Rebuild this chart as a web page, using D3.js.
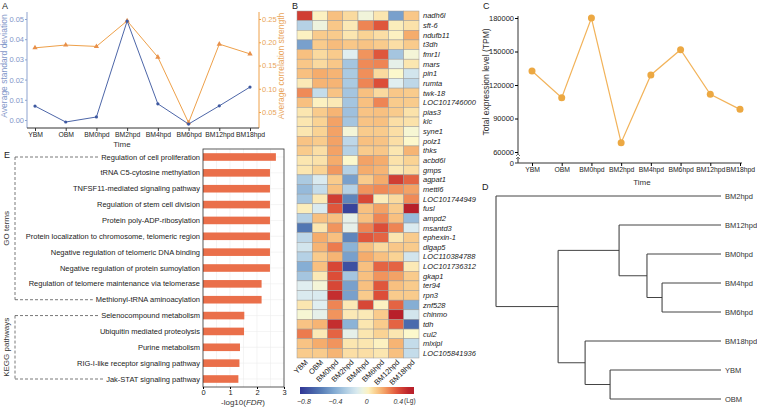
<!DOCTYPE html>
<html><head><meta charset="utf-8">
<script src="https://cdn.jsdelivr.net/npm/d3@7"></script>
<style>
body{margin:0;background:#fff;}
svg{font-family:"Liberation Sans", Arial, sans-serif;}
</style></head><body>
<svg id="fig" width="757" height="414"></svg>
<script>
// ---------------- DATA ----------------
const timePoints = ["YBM","OBM","BM0hpd","BM2hpd","BM4hpd","BM6hpd","BM12hpd","BM18hpd"];
const sdValues   = [0.0069, -0.001, 0.0015, 0.049, 0.008, -0.002, 0.007, 0.0163];
const corrValues = [0.188, 0.194, 0.191, 0.246, 0.168, 0.027, 0.196, 0.175];
const sdTicks    = [0, 0.01, 0.02, 0.03, 0.04, 0.05];
const corrTicks  = [0.05, 0.10, 0.15, 0.20, 0.25];

const tpmValues  = [132600, 108600, 180000, 68300, 129000, 151600, 111700, 98200];
const tpmTicks   = [60000, 90000, 120000, 150000, 180000];

const genes = ["nadh6l","sft-6","ndufb11","t3dh","fmr1l","mars","pin1","rumta","twk-18","LOC101746000",
 "pias3","klc","syne1","polz1","thks","acbd6l","gmps","agpat1","mettl6","LOC101744949","fusl","ampd2",
 "msantd3","ephexin-1","dlgap5","LOC110384788","LOC101736312","gkap1","ter94","rpn3","znf528","chinmo",
 "tdh","cul2","mlxipl","LOC105841936"];
const heatValues = [
 [0.45,0.02,0.15,0.08,-0.04,0.05,-0.45,0.13],
 [-0.25,-0.05,0.13,0.04,0.28,0.38,0.03,0.06],
 [0.02,0.12,0.12,0.05,0.10,0.07,0.02,0.20],
 [-0.45,0.12,0.16,0.13,0.14,0.12,0.07,0.12],
 [0.15,0.08,0.12,-0.10,0.25,0.38,-0.30,-0.03],
 [0.13,0.08,0.13,-0.30,0.27,0.28,-0.08,0.05],
 [0.15,0.20,0.18,-0.28,0.26,0.08,0.00,-0.15],
 [0.04,0.18,0.18,-0.28,0.28,0.40,-0.10,-0.22],
 [0.27,-0.20,0.14,-0.30,0.15,0.08,0.13,0.12],
 [0.15,0.02,0.04,-0.30,0.15,0.28,0.12,0.12],
 [0.05,0.12,0.18,-0.32,0.14,0.15,0.12,0.06],
 [0.05,0.10,0.22,-0.30,0.14,0.15,0.07,0.06],
 [0.05,0.10,0.22,-0.03,0.12,0.12,0.07,-0.02],
 [0.14,0.12,0.22,-0.22,0.15,0.14,0.07,0.00],
 [0.12,0.07,0.22,-0.25,0.12,0.13,0.05,0.18],
 [0.05,0.06,0.20,0.00,0.22,0.20,0.06,0.10],
 [0.05,0.10,0.24,-0.25,0.20,0.18,0.04,0.07],
 [-0.28,-0.12,0.12,-0.45,0.12,0.20,0.45,0.35],
 [-0.35,-0.20,0.15,-0.25,0.25,0.27,0.25,0.22],
 [-0.30,0.04,0.45,-0.55,0.42,0.03,0.08,0.27],
 [0.03,-0.12,0.38,-0.80,0.15,0.22,0.12,0.55],
 [-0.25,0.15,0.15,-0.08,0.15,0.28,0.15,-0.35],
 [-0.60,0.05,0.25,-0.08,0.28,0.40,0.28,-0.12],
 [-0.22,0.20,0.15,-0.55,0.38,0.35,0.05,0.12],
 [-0.15,0.18,0.30,-0.38,0.15,0.08,0.13,0.12],
 [-0.25,0.12,0.18,-0.45,0.20,0.15,0.10,-0.15],
 [-0.40,0.15,0.42,-0.75,0.15,0.35,0.35,0.04],
 [-0.30,0.04,0.40,-0.30,0.15,0.25,0.22,0.12],
 [-0.10,-0.03,0.42,-0.45,0.15,0.38,0.15,0.12],
 [-0.12,-0.12,0.50,-0.45,0.12,0.40,0.12,0.12],
 [0.05,-0.10,0.28,0.04,0.42,0.02,0.35,-0.40],
 [-0.02,-0.08,0.25,0.04,0.04,0.12,0.55,-0.15],
 [0.14,0.18,0.50,-0.38,0.05,0.12,0.35,-0.65],
 [0.30,0.04,0.35,-0.08,0.05,0.10,0.05,0.00],
 [0.14,0.20,0.25,0.05,0.05,0.02,0.18,-0.20],
 [0.12,0.12,0.18,0.07,0.07,0.05,0.15,-0.20]
];
const colorbarTicks = [-0.8, -0.4, 0, 0.4];

const leafOrder = ["BM2hpd","BM12hpd","BM0hpd","BM4hpd","BM6hpd","BM18hpd","YBM","OBM"];
const treeMerges = [
 ["n1","BM4hpd","BM6hpd",0.262],
 ["n2","BM0hpd","n1",0.329],
 ["n3","BM12hpd","n2",0.453],
 ["n4","YBM","OBM",0.493],
 ["n5","BM18hpd","n4",0.604],
 ["n6","n3","n5",0.724],
 ["root","BM2hpd","n6",1.0]
];

const goTerms = ["Regulation of cell proliferation","tRNA C5-cytosine methylation","TNFSF11-mediated signaling pathway",
 "Regulation of stem cell division","Protein poly-ADP-ribosylation","Protein localization to chromosome, telomeric region",
 "Negative regulation of telomeric DNA binding","Negative regulation of protein sumoylation",
 "Regulation of telomere maintenance via telomerase","Methionyl-tRNA aminoacylation"];
const goValues = [2.70,2.48,2.48,2.48,2.48,2.48,2.48,2.48,2.17,2.17];
const keggTerms = ["Selenocompound metabolism","Ubiquitin mediated proteolysis","Purine metabolism",
 "RIG-I-like receptor signaling pathway","Jak-STAT signaling pathway"];
const keggValues = [1.53,1.52,1.37,1.35,1.31];
const fdrTicks = [0,1,2,3];

// ---------------- DRAW ----------------
const svg = d3.select("#fig");
const fs = 7.5, fsx = 6.8;

function panelLabel(t,x,y){ svg.append("text").attr("x",x).attr("y",y).attr("font-size",9).attr("fill","#222").text(t); }
panelLabel("A",2,9); panelLabel("B",292,9); panelLabel("C",483,9); panelLabel("D",482,190); panelLabel("E",4,158);

// ===== Panel A =====
(function(){
 const blue="#4d66a8", blueTxt="#7f96c8", orange="#eea049", orangeTxt="#e9a55a";
 const x = d3.scalePoint().domain(timePoints).range([35,250]);
 const yL = d3.scaleLinear().domain([0,0.05]).range([120,19]);
 const yR = d3.scaleLinear().domain([0.05,0.25]).range([112,19]);
 const g = svg.append("g");
 g.append("line").attr("x1",27).attr("x2",27).attr("y1",12).attr("y2",128).attr("stroke","#8fa3cf");
 g.append("line").attr("x1",259).attr("x2",259).attr("y1",12).attr("y2",128).attr("stroke",orange);
 g.append("line").attr("x1",27).attr("x2",259).attr("y1",128).attr("y2",128).attr("stroke","#333");
 const la = g.append("g").attr("transform","translate(27,0)")
   .call(d3.axisLeft(yL).tickValues(sdTicks).tickFormat(d3.format(".2f")).tickSize(2).tickPadding(1));
 la.select(".domain").remove();
 la.selectAll("line").attr("stroke","#8fa3cf");
 la.selectAll("text").attr("fill",blueTxt).attr("font-size",fs).attr("font-family","Liberation Sans, Arial");
 const ra = g.append("g").attr("transform","translate(259,0)")
   .call(d3.axisRight(yR).tickValues(corrTicks).tickFormat(d3.format(".2f")).tickSize(2).tickPadding(1));
 ra.select(".domain").remove();
 ra.selectAll("line").attr("stroke",orange);
 ra.selectAll("text").attr("fill",orangeTxt).attr("font-size",fs).attr("font-family","Liberation Sans, Arial");
 const xa = g.append("g").attr("transform","translate(0,128)")
   .call(d3.axisBottom(x).tickSize(3).tickPadding(1));
 xa.select(".domain").remove();
 xa.selectAll("line").attr("stroke","#333");
 xa.selectAll("text").attr("fill","#222").attr("font-size",fsx).attr("font-family","Liberation Sans, Arial");
 g.append("text").attr("x",122).attr("y",147).attr("text-anchor","middle").attr("font-size",8).attr("fill","#333").text("Time");
 g.append("text").attr("transform","translate(7,66) rotate(-90)").attr("text-anchor","middle")
   .attr("font-size",8.5).attr("fill",blueTxt).text("Average standard deviation");
 g.append("text").attr("transform","translate(284,66) rotate(-90)").attr("text-anchor","middle")
   .attr("font-size",8.5).attr("fill",orangeTxt).text("Average correlation strength");
 const lo = d3.line().x((d,i)=>x(timePoints[i])).y(d=>yR(d));
 g.append("path").datum(corrValues).attr("d",lo).attr("fill","none").attr("stroke",orange).attr("stroke-width",1);
 g.selectAll(".tri").data(corrValues).join("path")
   .attr("transform",(d,i)=>`translate(${x(timePoints[i])},${yR(d)})`)
   .attr("d",d3.symbol(d3.symbolTriangle,12)).attr("fill","#e8904a");
 const lb = d3.line().x((d,i)=>x(timePoints[i])).y(d=>yL(d));
 g.append("path").datum(sdValues).attr("d",lb).attr("fill","none").attr("stroke",blue).attr("stroke-width",1);
 g.selectAll(".dot").data(sdValues).join("circle")
   .attr("cx",(d,i)=>x(timePoints[i])).attr("cy",d=>yL(d)).attr("r",1.6).attr("fill","#3d58a0");
})();

// ===== Panel B heatmap =====
(function(){
 const heatColor = d3.scaleLinear()
   .domain([-0.85,-0.6,-0.4,-0.2,-0.1,0,0.1,0.2,0.3,0.4,0.55])
   .range(["#313695","#5277b3","#86aed4","#c4dcea","#e0eef0","#fcf8cc","#fad394","#f5ac6c","#ec7b4e","#dc4d38","#b81f2a"])
   .clamp(true);
 const x = d3.scaleBand().domain(timePoints).range([297,419]);
 const y = d3.scaleBand().domain(genes).range([11,358]);
 const g = svg.append("g");
 genes.forEach((gene,r)=>{
   g.selectAll(null).data(heatValues[r]).join("rect")
    .attr("x",(d,i)=>x(timePoints[i])).attr("y",y(gene))
    .attr("width",x.bandwidth()).attr("height",y.bandwidth())
    .attr("fill",d=>heatColor(d)).attr("stroke","#9a9a9a").attr("stroke-width",0.5);
 });
 g.selectAll(".gl").data(genes).join("text")
   .attr("x",423).attr("y",d=>y(d)+y.bandwidth()/2).attr("dy","0.35em")
   .attr("font-size",7.5).attr("font-style","italic").attr("fill","#222").text(d=>d);
 g.selectAll(".cl").data(timePoints).join("text")
   .attr("transform",d=>`translate(${x(d)+x.bandwidth()/2+2},${361}) rotate(-45)`)
   .attr("text-anchor","end").attr("dy","0.35em").attr("font-size",7.5).attr("fill","#222").text(d=>d);
 const cb = d3.scaleLinear().domain([-0.85,0.6]).range([300,414]);
 const defs = svg.append("defs");
 const grad = defs.append("linearGradient").attr("id","cbg");
 d3.range(0,1.0001,0.05).forEach(t=>{
   grad.append("stop").attr("offset",t).attr("stop-color",heatColor(cb.invert(300+t*114)));
 });
 g.append("rect").attr("x",300).attr("y",387).attr("width",114).attr("height",7).attr("fill","url(#cbg)");
 g.selectAll(".ct").data(colorbarTicks).join("text")
   .attr("x",d=>cb(d)).attr("y",404).attr("text-anchor","middle")
   .attr("font-size",7).attr("font-style","italic").attr("fill","#333")
   .text(d=>d===0?"0":(d<0?"\u2212"+Math.abs(d):String(d)));
 g.append("text").attr("x",404).attr("y",403).attr("font-size",6.5).attr("fill","#333").text("(Lg)");
})();

// ===== Panel C =====
(function(){
 const x = d3.scalePoint().domain(timePoints).range([532,740]);
 const y = d3.scaleLinear().domain([60000,180000]).range([152,18]);
 const g = svg.append("g");
 g.append("line").attr("x1",518).attr("x2",518).attr("y1",16).attr("y2",163).attr("stroke","#333");
 g.append("line").attr("x1",518).attr("x2",742).attr("y1",163).attr("y2",163).attr("stroke","#333");
 const ya = g.append("g").attr("transform","translate(518,0)")
   .call(d3.axisLeft(y).tickValues(tpmTicks).tickFormat(d3.format("d")).tickSize(3).tickPadding(1));
 ya.select(".domain").remove();
 ya.selectAll("text").attr("font-size",fs).attr("fill","#222");
 g.append("line").attr("x1",515).attr("x2",518).attr("y1",163).attr("y2",163).attr("stroke","#333");
 g.append("text").attr("x",514).attr("y",163).attr("dy","0.35em").attr("text-anchor","end").attr("font-size",fs).attr("fill","#222").text("0");
 g.append("rect").attr("x",515).attr("y",154).attr("width",6).attr("height",4).attr("fill","#fff");
 g.append("path").attr("d","M516,156 l2,-2 l2,2 M516,159 l2,-2 l2,2").attr("stroke","#333").attr("fill","none").attr("stroke-width",0.7);
 const xa = g.append("g").attr("transform","translate(0,163)")
   .call(d3.axisBottom(x).tickSize(3).tickPadding(1));
 xa.select(".domain").remove();
 xa.selectAll("text").attr("font-size",fsx).attr("fill","#222");
 g.append("text").attr("x",642).attr("y",185).attr("text-anchor","middle").attr("font-size",8).attr("fill","#333").text("Time");
 g.append("text").attr("transform","translate(489,82) rotate(-90)").attr("text-anchor","middle")
   .attr("font-size",8.5).attr("fill","#333").text("Total expression level (TPM)");
 const line = d3.line().x((d,i)=>x(timePoints[i])).y(d=>y(d));
 g.append("path").datum(tpmValues).attr("d",line).attr("fill","none").attr("stroke","#f2b35a").attr("stroke-width",1.2);
 g.selectAll(".p").data(tpmValues).join("circle")
   .attr("cx",(d,i)=>x(timePoints[i])).attr("cy",d=>y(d)).attr("r",3.5).attr("fill","#eca842");
})();

// ===== Panel D dendrogram =====
(function(){
 const nodes = {};
 leafOrder.forEach(l=>nodes[l]={name:l,h:0,children:null});
 treeMerges.forEach(([id,a,b,h])=>nodes[id]={name:id,h:h,children:[nodes[a],nodes[b]]});
 const root = d3.hierarchy(nodes["root"]);
 const x = d3.scaleLinear().domain([0,1]).range([721,496]);
 const yLeaf = d3.scalePoint().domain(leafOrder).range([196,399]);
 root.eachAfter(n=>{
   n.px = x(n.data.h);
   n.py = n.children ? d3.mean(n.children,c=>c.py) : yLeaf(n.data.name);
 });
 const g = svg.append("g");
 root.each(n=>{
   if(!n.children) return;
   g.append("line").attr("x1",n.px).attr("x2",n.px).attr("y1",n.children[0].py).attr("y2",n.children[1].py)
     .attr("stroke","#333").attr("stroke-width",1);
   n.children.forEach(c=>{
     g.append("line").attr("x1",n.px).attr("x2",c.px).attr("y1",c.py).attr("y2",c.py)
      .attr("stroke","#444").attr("stroke-width",1);
   });
 });
 g.selectAll(".ll").data(root.leaves()).join("text")
   .attr("x",d=>d.px+4).attr("y",d=>d.py).attr("dy","0.35em").attr("font-size",7.5).attr("fill","#333")
   .text(d=>d.data.name);
})();

// ===== Panel E =====
(function(){
 const terms = goTerms.concat(keggTerms);
 const vals = goValues.concat(keggValues);
 const x = d3.scaleLinear().domain([0,3]).range([203,284]);
 const y = d3.scalePoint().domain(terms).range([157,379]);
 const g = svg.append("g");
 const top=149, bot=387;
 [0.5,1,1.5,2,2.5].forEach(v=>g.append("line").attr("x1",x(v)).attr("x2",x(v)).attr("y1",top).attr("y2",bot)
   .attr("stroke","#ececec").attr("stroke-width",0.6));
 terms.forEach(t=>g.append("line").attr("x1",203).attr("x2",284).attr("y1",y(t)).attr("y2",y(t))
   .attr("stroke","#ececec").attr("stroke-width",0.6));
 g.selectAll(".bar").data(vals).join("rect")
   .attr("x",x(0)).attr("y",(d,i)=>y(terms[i])-3.8).attr("width",d=>x(d)-x(0)).attr("height",7.6)
   .attr("fill","#ea6f4a");
 g.append("rect").attr("x",203).attr("y",top).attr("width",81).attr("height",bot-top)
   .attr("fill","none").attr("stroke","#333").attr("stroke-width",0.8);
 const xa = g.append("g").attr("transform",`translate(0,${bot})`)
   .call(d3.axisBottom(x).tickValues(fdrTicks).tickFormat(d3.format("d")).tickSize(2).tickPadding(1));
 xa.select(".domain").remove();
 xa.selectAll("text").attr("font-size",fs).attr("fill","#222");
 const t = g.append("text").attr("x",243).attr("y",405).attr("text-anchor","middle").attr("font-size",8).attr("fill","#333");
 t.append("tspan").text("-log10(");
 t.append("tspan").attr("font-style","italic").text("FDR");
 t.append("tspan").text(")");
 const labels = g.selectAll(".tl").data(terms).join("text")
   .attr("x",200).attr("y",d=>y(d)).attr("dy","0.35em").attr("text-anchor","end")
   .attr("font-size",fs).attr("fill","#222").text(d=>d);
 const starts = {};
 labels.each(function(d){ starts[d] = 200 - this.getComputedTextLength(); });
 function bracket(list,label){
   const y0=y(list[0]), y1=y(list[list.length-1]);
   const dash="3,2";
   g.append("line").attr("x1",15).attr("x2",starts[list[0]]-3).attr("y1",y0).attr("y2",y0).attr("stroke","#555").attr("stroke-dasharray",dash).attr("stroke-width",0.8);
   g.append("line").attr("x1",15).attr("x2",starts[list[list.length-1]]-3).attr("y1",y1).attr("y2",y1).attr("stroke","#555").attr("stroke-dasharray",dash).attr("stroke-width",0.8);
   g.append("line").attr("x1",15).attr("x2",15).attr("y1",y0).attr("y2",y1).attr("stroke","#555").attr("stroke-dasharray",dash).attr("stroke-width",0.8);
   g.append("text").attr("transform",`translate(9,${(y0+y1)/2}) rotate(-90)`).attr("text-anchor","middle")
     .attr("font-size",8).attr("fill","#333").text(label);
 }
 bracket(goTerms,"GO terms");
 bracket(keggTerms,"KEGG pathways");
})();
</script>
</body></html>
